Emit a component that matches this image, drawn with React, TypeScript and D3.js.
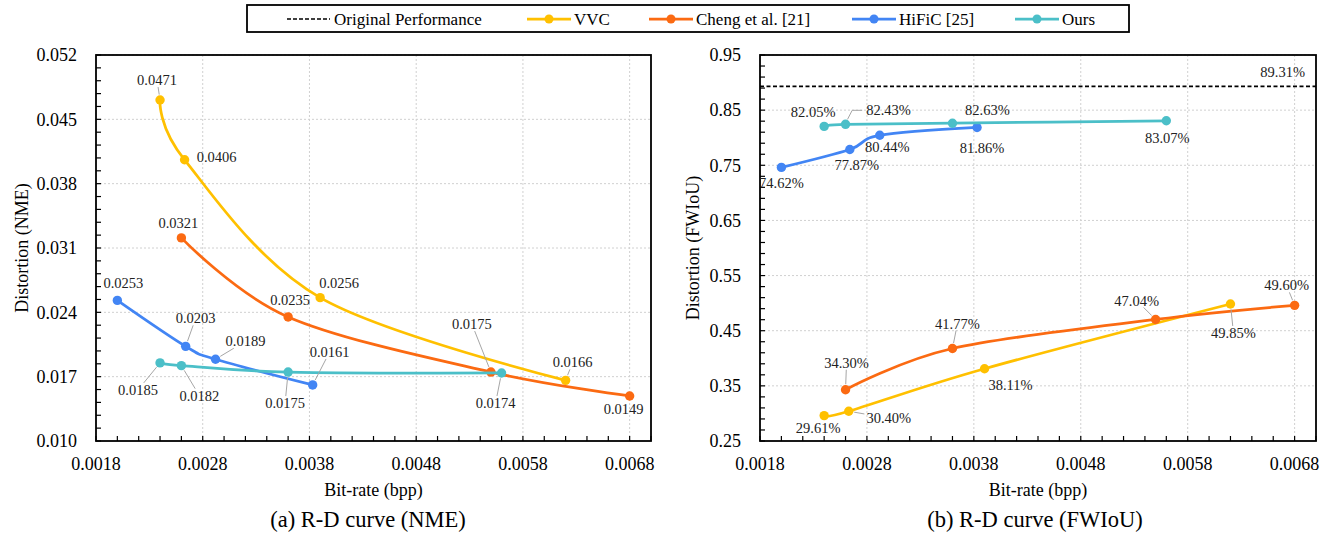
import { useEffect, useRef } from 'react'
import * as d3 from 'd3'

const seriesNames = ['VVC', 'Cheng et al. [21]', 'HiFiC [25]', 'Ours']
const seriesColors = ['#FFC000', '#FB6A12', '#4285F4', '#4BBFC8']

// bit-rate (bpp) per series
const bitrateVVC = [0.0024, 0.00263, 0.0039, 0.0062]
const bitrateCheng = [0.0026, 0.0036, 0.0055, 0.0068]
const bitrateHiFiC = [0.002, 0.00264, 0.00292, 0.00383]
const bitrateOurs = [0.0024, 0.0026, 0.0036, 0.0056]

// (a) NME
const nmeVVC = [0.0471, 0.0406, 0.0256, 0.0166]
const nmeCheng = [0.0321, 0.0235, 0.0175, 0.0149]
const nmeHiFiC = [0.0253, 0.0203, 0.0189, 0.0161]
const nmeOurs = [0.0185, 0.0182, 0.0175, 0.0174]

// (b) FWIoU
const fwiouVVC = [0.2961, 0.304, 0.3811, 0.4985]
const fwiouCheng = [0.343, 0.4177, 0.4704, 0.496]
const fwiouHiFiC = [0.7462, 0.7787, 0.8044, 0.8186]
const fwiouOurs = [0.8205, 0.8243, 0.8263, 0.8307]
const fwiouOriginal = 0.8931

const xTicks = [0.0018, 0.0028, 0.0038, 0.0048, 0.0058, 0.0068]
const nmeTicks = [0.01, 0.017, 0.024, 0.031, 0.038, 0.045, 0.052]
const fwiouTicks = [0.25, 0.35, 0.45, 0.55, 0.65, 0.75, 0.85, 0.95]

// label placement: [dx, dy, leader] (0 none, 1 straight, 2 elbow)
const nmeLabelPos = [
  [[-3, -20, 1], [32, -3, 0], [19, -15, 0], [7, -18, 1]],
  [[-3, -15, 0], [2, -17, 0], [-19, -48, 1], [-6, 13, 0]],
  [[6, -17, 0], [10, -28, 1], [30, -18, 1], [17, -33, 1]],
  [[-22, 27, 1], [18, 30, 1], [-3, 31, 1], [-6, 30, 1]],
]
const fwiouLabelPos = [
  [[-6, 12, 0], [40, 7, 1], [26, 16, 0], [3, 29, 1]],
  [[1, -27, 1], [5, -25, 1], [-19, -19, 1], [-8, -20, 1]],
  [[0, 16, 0], [7, 15, 0], [7.5, 12, 0], [5, 20, 0]],
  [[-11, -14, 0], [43, -14, 2], [35, -13, 0], [1, 17, 0]],
]

const FONT = 'Liberation Serif, DejaVu Serif, Times New Roman, serif'
const TOP = 55
const BOTTOM = 441

function drawPanel(svg: any, cfg: any) {
  const { x0, x1 } = cfg
  const x = d3.scaleLinear().domain([0.0018, 0.007]).range([x0, x1])
  const y = d3.scaleLinear().domain(cfg.yDomain).range([BOTTOM, TOP])
  const g = svg.append('g').attr('font-family', FONT)

  // grid
  xTicks.slice(1).forEach(t => {
    g.append('line').attr('x1', x(t)).attr('x2', x(t)).attr('y1', TOP).attr('y2', BOTTOM)
      .attr('stroke', '#d0d0d0').attr('stroke-width', 1).attr('stroke-dasharray', '2,2')
  })
  cfg.yTicks.slice(1).forEach((t: number) => {
    g.append('line').attr('x1', x0).attr('x2', x1).attr('y1', y(t)).attr('y2', y(t))
      .attr('stroke', '#d0d0d0').attr('stroke-width', 1).attr('stroke-dasharray', '2,2')
  })

  // minor + major ticks (inside)
  d3.range(0, 27).forEach(i => {
    const xv = x(0.0018 + i * 0.0002)
    g.append('line').attr('x1', xv).attr('x2', xv).attr('y1', BOTTOM).attr('y2', BOTTOM - 5)
      .attr('stroke', '#000').attr('stroke-width', 1.2)
  })
  const [ya, yb] = cfg.yDomain
  d3.range(0, Math.round((yb - ya) / cfg.yMinor) + 1).forEach(i => {
    const yv = y(ya + i * cfg.yMinor)
    g.append('line').attr('x1', x0).attr('x2', x0 + 5).attr('y1', yv).attr('y2', yv)
      .attr('stroke', '#000').attr('stroke-width', 1.2)
  })

  // frame
  g.append('rect').attr('x', x0).attr('y', TOP).attr('width', x1 - x0).attr('height', BOTTOM - TOP)
    .attr('fill', 'none').attr('stroke', '#000').attr('stroke-width', 1.8)

  // tick labels
  xTicks.forEach(t => {
    g.append('text').attr('x', x(t)).attr('y', BOTTOM + 23).attr('dy', '0.35em')
      .attr('text-anchor', 'middle').style('font-size', '18px').text(d3.format('.4f')(t))
  })
  cfg.yTicks.forEach((t: number) => {
    g.append('text').attr('x', x0 - 19).attr('y', y(t)).attr('dy', '0.35em')
      .attr('text-anchor', 'end').style('font-size', '18px').text(cfg.yFormat(t))
  })

  // titles
  g.append('text').attr('transform', `translate(${cfg.yTitleX}, ${(TOP + BOTTOM) / 2}) rotate(-90)`)
    .attr('dy', '0.35em').attr('text-anchor', 'middle').style('font-size', '18px').text(cfg.yTitle)
  g.append('text').attr('x', (x0 + x1) / 2).attr('y', 490).attr('dy', '0.35em')
    .attr('text-anchor', 'middle').style('font-size', '18px').text('Bit-rate (bpp)')
  g.append('text').attr('x', cfg.captionX).attr('y', 519).attr('dy', '0.35em')
    .attr('text-anchor', 'middle').style('font-size', '22.5px').text(cfg.caption)

  // baseline
  if (cfg.baseline != null) {
    g.append('line').attr('x1', x0).attr('x2', x1).attr('y1', y(cfg.baseline)).attr('y2', y(cfg.baseline))
      .attr('stroke', '#000').attr('stroke-width', 1.8).attr('stroke-dasharray', '4,2.5')
    g.append('text').attr('x', x1 - 11).attr('y', y(cfg.baseline) - 14).attr('dy', '0.35em')
      .attr('text-anchor', 'end').style('font-size', '14.5px').attr('fill', '#222')
      .text(d3.format('.2%')(cfg.baseline))
  }

  const bitrates = [bitrateVVC, bitrateCheng, bitrateHiFiC, bitrateOurs]
  const line = d3.line<[number, number]>().x(d => x(d[0])).y(d => y(d[1])).curve(d3.curveCardinal.tension(0))

  cfg.values.forEach((vals: number[], s: number) => {
    const pts = vals.map((v, i) => [bitrates[s][i], v] as [number, number])
    g.append('path').attr('d', line(pts)).attr('fill', 'none')
      .attr('stroke', seriesColors[s]).attr('stroke-width', 2.75)
    pts.forEach(p => {
      g.append('circle').attr('cx', x(p[0])).attr('cy', y(p[1])).attr('r', 4.7).attr('fill', seriesColors[s])
    })
  })

  // data labels
  const lg = svg.append('g').attr('font-family', FONT)
  cfg.values.forEach((vals: number[], s: number) => {
    vals.forEach((v, i) => {
      const [dx, dy, leader] = cfg.labelPos[s][i]
      const px = x(bitrates[s][i])
      const py = y(v)
      const tx = px + dx
      const ty = py + dy
      const t = lg.append('text').attr('x', tx).attr('y', ty).attr('dy', '0.35em')
        .attr('text-anchor', 'middle').style('font-size', '14.5px').attr('fill', '#222')
        .text(cfg.labelFormat(v))
      const bw = (t.node() as SVGTextElement).getBBox().width
      if (leader === 1) {
        const vx = px - tx
        const vy = py - ty
        const hw = bw / 2 + 2
        const hh = 7
        const k = Math.min(Math.abs(vx) > 0 ? hw / Math.abs(vx) : Infinity, Math.abs(vy) > 0 ? hh / Math.abs(vy) : Infinity)
        const ex = tx + vx * k
        const ey = ty + vy * k
        const len = Math.hypot(vx, vy)
        const sx = px - (vx / len) * 5.5
        const sy = py - (vy / len) * 5.5
        if (k < 1) {
          lg.append('line').attr('x1', ex).attr('y1', ey).attr('x2', sx).attr('y2', sy)
            .attr('stroke', '#a6a6a6').attr('stroke-width', 1)
        }
      } else if (leader === 2) {
        const left = tx - bw / 2
        lg.append('path')
          .attr('d', `M${px + 2},${py - 5} L${left - 14},${ty} L${left - 4},${ty}`)
          .attr('fill', 'none').attr('stroke', '#a6a6a6').attr('stroke-width', 1)
      }
    })
  })
}

function drawLegend(svg: any) {
  const g = svg.append('g').attr('font-family', FONT)
  g.append('rect').attr('x', 247).attr('y', 5).attr('width', 882).attr('height', 27)
    .attr('fill', '#fff').attr('stroke', '#000').attr('stroke-width', 1.8)
  const cy = 19
  g.append('line').attr('x1', 287).attr('x2', 330).attr('y1', cy).attr('y2', cy)
    .attr('stroke', '#000').attr('stroke-width', 1.5).attr('stroke-dasharray', '4,2')
  g.append('text').attr('x', 334).attr('y', cy).attr('dy', '0.35em').style('font-size', '17px')
    .text('Original Performance')
  const starts = [527, 649, 852, 1015]
  seriesNames.forEach((name, i) => {
    const sx = starts[i]
    g.append('line').attr('x1', sx).attr('x2', sx + 44).attr('y1', cy).attr('y2', cy)
      .attr('stroke', seriesColors[i]).attr('stroke-width', 2.75)
    g.append('circle').attr('cx', sx + 22).attr('cy', cy).attr('r', 4.5).attr('fill', seriesColors[i])
    g.append('text').attr('x', sx + 47).attr('y', cy).attr('dy', '0.35em').style('font-size', '17px').text(name)
  })
}

export default function App() {
  const svgRef = useRef<SVGSVGElement>(null)

  useEffect(() => {
    if (!svgRef.current) return
    const svg = d3.select(svgRef.current)
    svg.selectAll('*').remove()

    drawPanel(svg, {
      x0: 96, x1: 651, yDomain: [0.01, 0.052], yTicks: nmeTicks, yMinor: 0.0014,
      yFormat: d3.format('.3f'), yTitle: 'Distortion (NME)', yTitleX: 22,
      caption: '(a) R-D curve (NME)', captionX: 368,
      values: [nmeVVC, nmeCheng, nmeHiFiC, nmeOurs], labelFormat: d3.format('.4f'), labelPos: nmeLabelPos,
    })
    drawPanel(svg, {
      x0: 760, x1: 1316, yDomain: [0.25, 0.95], yTicks: fwiouTicks, yMinor: 0.02,
      yFormat: d3.format('.2f'), yTitle: 'Distortion (FWIoU)', yTitleX: 693,
      caption: '(b) R-D curve (FWIoU)', captionX: 1035,
      values: [fwiouVVC, fwiouCheng, fwiouHiFiC, fwiouOurs], labelFormat: d3.format('.2%'), labelPos: fwiouLabelPos,
      baseline: fwiouOriginal,
    })
    drawLegend(svg)
  }, [])

  return (
    <svg ref={svgRef} width={1330} height={533}
      style={{ position: 'absolute', left: 0, top: 0, background: '#fff' }} />
  )
}
